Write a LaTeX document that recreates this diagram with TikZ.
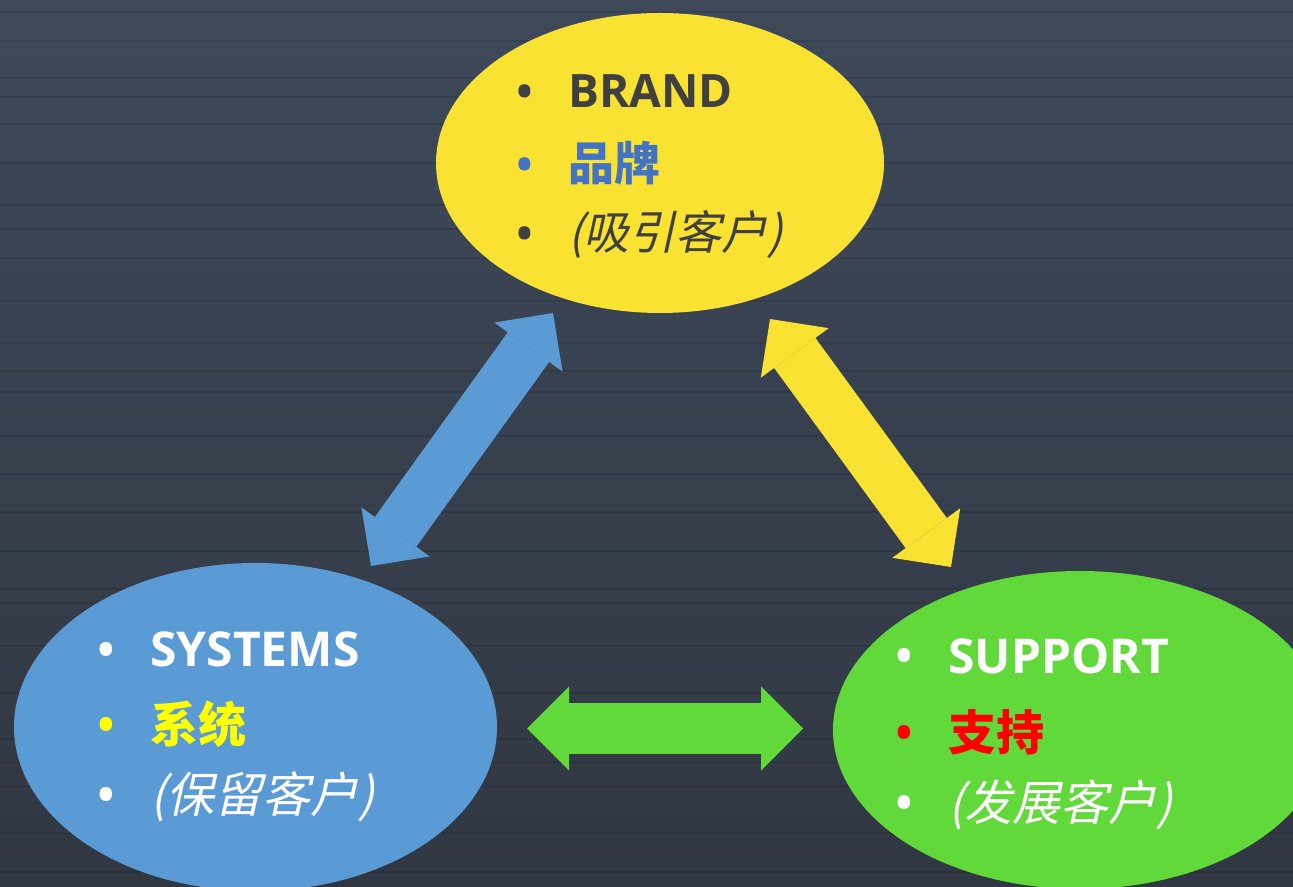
\documentclass[tikz,border=0pt]{standalone}
\usepackage{fontspec}
\setmainfont{Open Sans}
\newfontfamily\cjk{Noto Sans CJK SC}
\newfontfamily\cjkit[FakeSlant=0.22]{Noto Sans CJK SC}
\usetikzlibrary{arrows.meta,shapes.geometric}

\definecolor{bgtop}{HTML}{3E4959}
\definecolor{bgmid}{HTML}{48525F}
\definecolor{bgbot}{HTML}{303742}
\definecolor{brandyellow}{HTML}{F9E232}
\definecolor{sysblue}{HTML}{5B9BD5}
\definecolor{supgreen}{HTML}{62D93A}
\definecolor{darktext}{HTML}{404040}
\definecolor{midblue}{HTML}{4472C4}
\definecolor{pureyellow}{HTML}{FFFF00}
\definecolor{purered}{HTML}{FF0000}

\tikzset{
  bubble/.style={ellipse, inner sep=0pt, draw=none},
  dblarrow/.style={line width=38.25pt,
    {Triangle[length=31.5pt,width=63pt,line width=0pt]}-{Triangle[length=31.5pt,width=63pt,line width=0pt]}},
  item/.style={anchor=base west, inner sep=0pt},
}
\newcommand{\bul}{\llap{\raisebox{-0.07em}{\scalebox{1.2}{\textbullet}}\hspace{25pt}}}

\begin{document}
\begin{tikzpicture}[x=0.75pt,y=-0.75pt]
  \useasboundingbox (0,0) rectangle (1293,887);
  \clip (0,0) rectangle (1293,887);
  % background boards
  \shade[top color=bgtop, middle color=bgmid, bottom color=bgbot] (0,0) rectangle (1293,887);
  \foreach \y/\w in {12/1.5,41/1,78/2,97/0.8,124/1.5,163/1,205/2,229/0.8,258/1.5,301/1,
                     343/2,371/0.8,392/1.2,436/2,474/1,512/1.5,551/0.8,589/2,603/1,
                     646/1.5,693/1,739/2,762/0.8,786/1.5,833/1,872/2}
    \draw[black, opacity=0.1, line width=\w pt] (0,\y) -- (1293,\y);

  % the three bubbles
  \node[bubble, fill=brandyellow, minimum width=336pt, minimum height=225pt] (brand) at (660,163) {};
  \node[bubble, fill=sysblue, minimum width=362.25pt, minimum height=246pt] (systems) at (255.5,727) {};
  \node[bubble, fill=supgreen, minimum width=370.5pt, minimum height=238.5pt] (support) at (1080,730) {};

  % arrows between them
  \coordinate (bs-top) at (553,313);
  \coordinate (bs-bot) at (371,566);
  \coordinate (bp-top) at (770,319);
  \coordinate (bp-bot) at (951,567);
  \coordinate (sp-left) at (527,728.5);
  \coordinate (sp-right) at (803,728.5);
  \draw[dblarrow, sysblue] (bs-top) -- (bs-bot);
  \draw[dblarrow, brandyellow] (bp-top) -- (bp-bot);
  \draw[dblarrow, supgreen] (sp-left) -- (sp-right);

  % texts
  \begin{scope}[font=\fontsize{34.5pt}{40pt}\selectfont]
    \node[item, text=darktext] (brand1) at (568,108) {\bul\bfseries BRAND};
    \node[item, text=midblue] (brand2) at (568,181) {\bul\cjk\bfseries 品牌};
    \node[item, text=darktext] (brand3) at (568,250) {\bul\cjkit (吸引客户)};
  \end{scope}
  \begin{scope}[font=\fontsize{36pt}{42pt}\selectfont]
    \node[item, text=white] (sys1) at (150,667) {\bul\bfseries SYSTEMS};
    \node[item, text=pureyellow] (sys2) at (150,742) {\bul\cjk\bfseries 系统};
    \node[item, text=white] (sys3) at (150,812) {\bul\cjkit (保留客户)};
    \node[item, text=white] (sup1) at (948,673) {\bul\bfseries SUPPORT};
    \node[item, text=purered] (sup2) at (948,750) {\bul\cjk\bfseries 支持};
    \node[item, text=white] (sup3) at (948,820) {\bul\cjkit (发展客户)};
  \end{scope}
\end{tikzpicture}
\end{document}
